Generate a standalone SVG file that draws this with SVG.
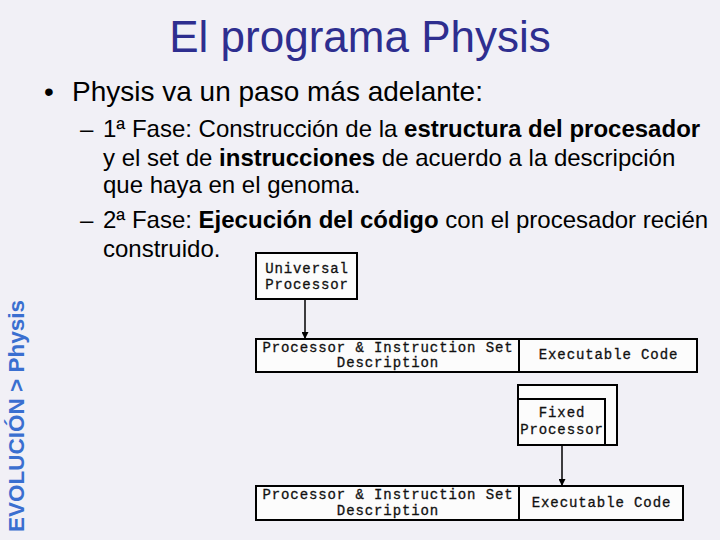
<svg xmlns="http://www.w3.org/2000/svg" width="720" height="540" viewBox="0 0 720 540">
<defs>
<style>
.title{font-family:"Liberation Sans",Arial,sans-serif;font-size:44px;fill:#2e2e8f}
.t{font-family:"Liberation Sans",Arial,sans-serif;fill:#000}
.b{font-weight:bold}
.side{font-family:"Liberation Sans",Arial,sans-serif;font-size:22.5px;font-weight:bold;fill:#3a6fd0}
.box{fill:#fcfcfc;stroke:#000;stroke-width:2}
.m{font-family:"Liberation Mono","Courier New",monospace;font-size:14px;letter-spacing:0.9px;fill:#111;stroke:#111;stroke-width:0.3;text-anchor:middle}
.conn{stroke:#000;stroke-width:1.5;fill:none}
</style>
<marker id="ah" viewBox="0 0 10 10" refX="10" refY="5" markerWidth="7" markerHeight="7" markerUnits="userSpaceOnUse" orient="auto">
<path d="M0,0 L10,5 L0,10 z" fill="#000"/>
</marker>
</defs>
<rect x="0" y="0" width="720" height="540" fill="#f1f0f6"/>
<text class="title" x="360" y="52" text-anchor="middle">El programa Physis</text>
<text class="t" x="44" y="101" font-size="28">•</text>
<text class="t" x="72" y="101" font-size="28">Physis va un paso más adelante:</text>
<text class="t" x="80" y="137" font-size="24">–</text>
<text class="t" x="103" y="137" font-size="24">1ª Fase: Construcción de la <tspan class="b">estructura del procesador</tspan></text>
<text class="t" x="103" y="166" font-size="24">y el set de <tspan class="b">instrucciones</tspan> de acuerdo a la descripción</text>
<text class="t" x="103" y="193" font-size="24">que haya en el genoma.</text>
<text class="t" x="80" y="228" font-size="24">–</text>
<text class="t" x="103" y="228" font-size="24">2ª Fase: <tspan class="b">Ejecución del código</tspan> con el procesador recién</text>
<text class="t" x="103" y="257" font-size="24">construido.</text>
<text class="side" transform="translate(24,532) rotate(-90)">EVOLUCIÓN &gt; Physis</text>
<g id="connectors">
<line class="conn" x1="305" y1="299" x2="305" y2="339" marker-end="url(#ah)"/>
<line class="conn" x1="562" y1="445" x2="562" y2="486" marker-end="url(#ah)"/>
</g>
<g id="universal">
<rect class="box" x="256" y="253" width="101" height="46"/>
<text class="m" x="307" y="273">Universal</text>
<text class="m" x="307" y="289">Processor</text>
</g>
<g id="desc1">
<rect class="box" x="256" y="339" width="263" height="33"/>
<text class="m" x="388" y="352">Processor &amp; Instruction Set</text>
<text class="m" x="388" y="367">Description</text>
</g>
<g id="code1">
<rect class="box" x="519" y="339" width="178" height="33"/>
<text class="m" x="608.5" y="359">Executable Code</text>
</g>
<g id="fixed">
<rect class="box" x="518" y="385" width="99" height="60"/>
<rect class="box" x="518" y="399" width="87" height="46"/>
<text class="m" x="562" y="417">Fixed</text>
<text class="m" x="562" y="434">Processor</text>
</g>
<g id="desc2">
<rect class="box" x="256" y="486" width="263" height="34"/>
<text class="m" x="388" y="499">Processor &amp; Instruction Set</text>
<text class="m" x="388" y="515">Description</text>
</g>
<g id="code2">
<rect class="box" x="519" y="486" width="164" height="34"/>
<text class="m" x="601.5" y="507">Executable Code</text>
</g>
</svg>
